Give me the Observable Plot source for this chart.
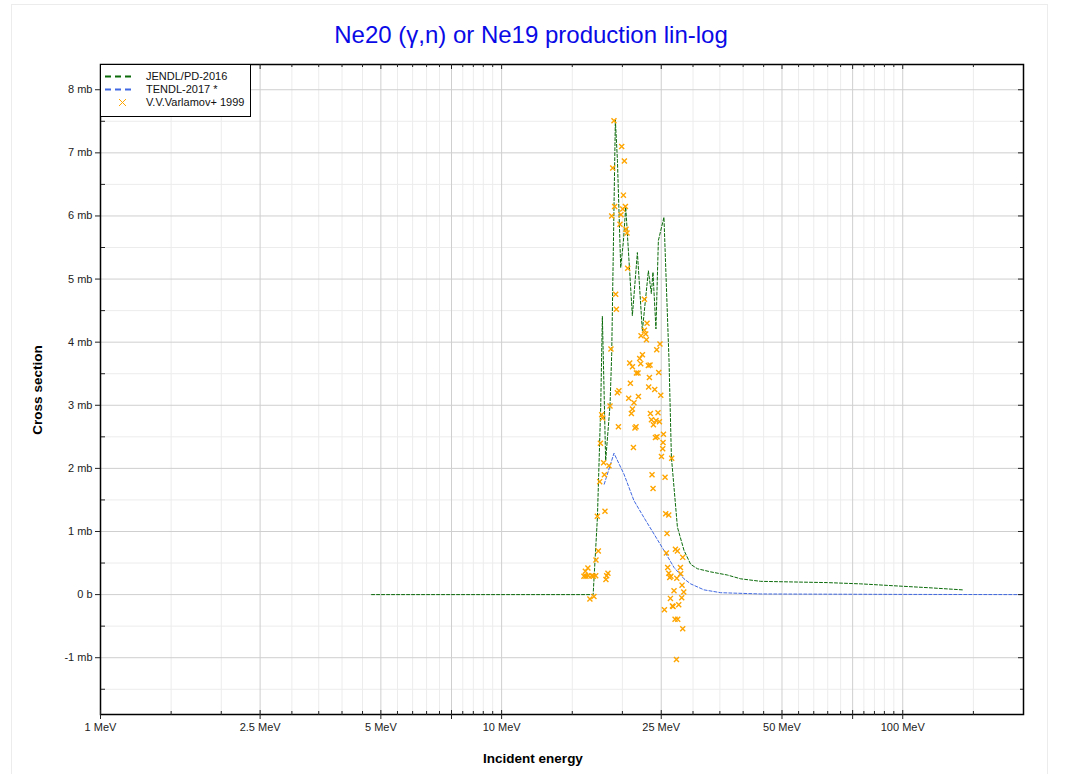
<!DOCTYPE html>
<html>
<head>
<meta charset="utf-8">
<script src="https://cdn.jsdelivr.net/npm/d3@7"></script>
<script src="https://cdn.jsdelivr.net/npm/@observablehq/plot@0.6"></script>
<style>
  html, body { margin: 0; padding: 0; background: #fff; }
  body { width: 1071px; height: 774px; position: relative; overflow: hidden; font-family: "Liberation Sans", Arial, sans-serif; }
  #chart { position: absolute; left: 0; top: 0; }
  .title { position: absolute; left: 0; width: 1062px; top: 21px; text-align: center; font-size: 24px; color: #0a0ae6; }
  .ylab { position: absolute; left: 37px; top: 390px; transform: translate(-50%, -50%) rotate(-90deg); font-size: 13.5px; font-weight: bold; white-space: nowrap; color: #000; }
  .xlab { position: absolute; left: 533px; top: 758px; transform: translate(-50%, -50%); font-size: 13.5px; font-weight: bold; white-space: nowrap; color: #000; }
  .legend { position: absolute; left: 100px; top: 64px; width: 149px; height: 51px; border: 1px solid #000; background: #fff; font-size: 11px; color: #111; }
  .legend .row { position: absolute; left: 0; height: 13px; width: 149px; }
  .legend svg { position: absolute; left: 4px; top: 0; }
  .legend span { position: absolute; left: 45px; top: 0; line-height: 13px; white-space: nowrap; }
  .border { position: absolute; left: 11px; top: 4px; width: 1035px; height: 780px; border: 1px solid #ececec; pointer-events: none; }
</style>
</head>
<body>
<div class="border"></div>
<div id="chart"></div>
<div class="title">Ne20 (γ,n) or Ne19 production lin-log</div>
<div class="ylab">Cross section</div>
<div class="xlab">Incident energy</div>
<div class="legend" id="legend"></div>
<script>
// ---- Data (energy in MeV, cross section in mb) ----
const jendlE  = [4.74, 16.7, 16.91, 17.33, 17.66, 17.83, 18.17, 18.63, 18.81, 19.21, 19.44, 19.81, 20.12, 20.39, 21.18, 21.80, 22.43, 23.22, 23.62, 23.84, 24.25, 24.59, 25.39, 26.14, 26.50, 27.43, 28.49, 29.60, 30.76, 33.20, 36.54, 39.45, 44.25, 53.47, 64.9, 78.6, 95.0, 115.3, 140.9];
const jendlXS = [0, 0, 0, 1.22, 2.97, 4.41, 2.12, 3.0, 3.8, 7.52, 6.88, 5.18, 5.6, 6.14, 4.42, 5.42, 4.18, 5.13, 4.77, 5.11, 4.21, 5.61, 5.98, 3.71, 2.18, 1.07, 0.70, 0.48, 0.41, 0.36, 0.31, 0.25, 0.21, 0.20, 0.19, 0.17, 0.14, 0.11, 0.075];

const tendlE  = [18.02, 19.06, 20.18, 21.37, 22.64, 23.98, 25.39, 26.90, 28.49, 29.60, 31.96, 35.17, 44.25, 100, 200];
const tendlXS = [1.75, 2.24, 1.91, 1.49, 1.22, 0.96, 0.70, 0.43, 0.25, 0.17, 0.075, 0.03, 0.01, 0.003, 0];

const varlamovE  = [19.06, 19.92, 20.23, 18.92, 20.12, 19.13, 20.04, 20.35, 18.81, 19.84, 19.73, 20.42, 20.54, 20.62, 19.25, 19.32, 22.70, 23.04, 22.70, 22.87, 22.26, 22.96, 18.73, 24.82, 24.36, 22.44, 22.09,
  20.86, 21.19, 22.22, 21.68, 21.88, 23.22, 23.44, 24.64, 23.36, 20.94, 19.43, 19.61, 23.26, 24.08, 21.93, 24.93, 20.74, 21.38, 18.63, 21.19, 21.06, 23.49, 24.54, 17.76, 17.86, 23.63, 24.26, 24.74, 23.90, 19.55, 21.63, 21.50,
  25.32, 24.40, 24.18, 25.26, 17.63, 25.21, 21.31, 25.03, 26.55, 17.96, 18.52, 18.04, 23.71, 25.55, 17.56, 23.85, 18.10, 25.65, 26.10, 17.32, 25.84, 17.42, 17.19,
  27.12, 27.43, 25.75, 28.28, 27.91, 25.94, 26.10, 26.25, 26.42, 27.33, 27.96, 18.41, 18.28, 18.20, 16.41, 16.17, 16.04, 16.23, 16.45, 16.77, 16.93, 17.16, 16.99, 16.60,
  28.17, 28.45, 26.90, 28.12, 26.35, 27.64, 26.75, 26.66, 25.46, 27.06, 27.48, 28.28, 27.28];
const varlamovXS = [7.51, 7.10, 6.87, 6.76, 6.33, 6.15, 6.11, 6.15, 6.00, 6.02, 5.87, 5.79, 5.73, 5.17, 4.76, 4.52, 4.68, 4.30, 4.19, 4.13, 4.10, 4.04, 3.89, 3.97, 3.88, 3.80, 3.74,
  3.67, 3.61, 3.66, 3.51, 3.51, 3.63, 3.64, 3.52, 3.44, 3.35, 3.20, 3.23, 3.29, 3.25, 3.14, 3.16, 3.11, 3.04, 2.99, 2.94, 2.87, 2.87, 2.88, 2.85, 2.80, 2.77, 2.76, 2.74, 2.69, 2.66, 2.66, 2.64,
  2.54, 2.50, 2.49, 2.41, 2.40, 2.31, 2.33, 2.19, 2.16, 2.09, 2.04, 1.90, 1.90, 1.86, 1.79, 1.68, 1.32, 1.28, 1.26, 1.24, 0.97, 0.69, 0.55,
  0.72, 0.69, 0.66, 0.59, 0.43, 0.43, 0.34, 0.27, 0.29, 0.26, 0.33, 0.34, 0.30, 0.24, 0.42, 0.37, 0.29, 0.29, 0.30, 0.30, 0.29, 0.30, -0.03, -0.07,
  0.15, 0.04, 0.06, -0.05, -0.06, -0.16, -0.19, -0.18, -0.24, -0.39, -0.39, -0.54, -1.03];

// ---- Ticks ----
const yMajor = [-1, 0, 1, 2, 3, 4, 5, 6, 7, 8];
const yTickLabels = ["-1 mb", "0 b", "1 mb", "2 mb", "3 mb", "4 mb", "5 mb", "6 mb", "7 mb", "8 mb"];
const yMinor = [-1.5, -0.5, 0.5, 1.5, 2.5, 3.5, 4.5, 5.5, 6.5, 7.5];
const xMajor = [1, 2.5, 5, 7.5, 10, 25, 50, 75, 100];
const xTickLabels = ["1 MeV", "2.5 MeV", "5 MeV", "", "10 MeV", "25 MeV", "50 MeV", "", "100 MeV"];
const xMinor = [1.5, 2, 3, 3.5, 4, 4.5, 5.5, 6, 6.5, 7, 8, 8.5, 9, 9.5, 15, 20, 30, 35, 40, 45, 55, 60, 65, 70, 80, 85, 90, 95, 150];

const seriesNames = ["JENDL/PD-2016", "TENDL-2017 *", "V.V.Varlamov+ 1999"];
const colors = ["#0b6b0b", "#4169e1", "#ffa500"];

const jendl = jendlE.map((E, i) => ({E, xs: jendlXS[i]}));
const tendl = tendlE.map((E, i) => ({E, xs: tendlXS[i]}));
const varlamov = varlamovE.map((E, i) => ({E, xs: varlamovXS[i]}));

const noText = () => "";
const chart = Plot.plot({
  width: 1071,
  height: 774,
  marginTop: 64,
  marginLeft: 100,
  marginRight: 48,
  marginBottom: 60,
  style: {fontFamily: "'Liberation Sans', Arial, sans-serif", fontSize: "11px", background: "transparent", color: "#222"},
  x: {type: "log", domain: [1, 200], label: null},
  y: {domain: [-1.9, 8.4], label: null},
  marks: [
    Plot.gridY(yMinor, {stroke: "#ececec", strokeOpacity: 1}),
    Plot.gridX(xMinor, {stroke: "#ececec", strokeOpacity: 1}),
    Plot.gridY(yMajor, {stroke: "#cfcfcf", strokeOpacity: 1}),
    Plot.gridX(xMajor.filter(d => d > 1), {stroke: "#cfcfcf", strokeOpacity: 1}),
    Plot.line(jendl, {x: "E", y: "xs", stroke: colors[0], strokeWidth: 1, strokeDasharray: "3,2"}),
    Plot.line(tendl, {x: "E", y: "xs", stroke: colors[1], strokeWidth: 1, strokeDasharray: "3,2"}),
    Plot.dot(varlamov, {x: "E", y: "xs", symbol: "times", stroke: colors[2], r: 2.4, strokeWidth: 1.4}),
    Plot.frame({stroke: "#000", strokeWidth: 1.5}),
    Plot.axisY(yMajor, {anchor: "left", tickSize: 5, tickPadding: 3, tickFormat: d => yTickLabels[yMajor.indexOf(d)], label: null, fontSize: 11}),
    Plot.axisY(yMinor, {anchor: "right", frameAnchor: "left", tickSize: 4, tickFormat: noText, label: null}),
    Plot.axisY(yMajor, {anchor: "left", frameAnchor: "right", tickSize: 5, tickFormat: noText, label: null}),
    Plot.axisY(yMinor, {anchor: "left", frameAnchor: "right", tickSize: 3, tickFormat: noText, label: null}),
    Plot.axisX(xMajor, {anchor: "bottom", tickSize: 5, tickPadding: 4, tickFormat: d => xTickLabels[xMajor.indexOf(d)], label: null, fontSize: 11}),
    Plot.axisX(xMajor, {anchor: "top", frameAnchor: "bottom", tickSize: 5, tickFormat: noText, label: null}),
    Plot.axisX(xMinor, {anchor: "top", frameAnchor: "bottom", tickSize: 4, tickFormat: noText, label: null}),
    Plot.axisX(xMajor, {anchor: "bottom", frameAnchor: "top", tickSize: 5, tickFormat: noText, label: null}),
    Plot.axisX(xMinor, {anchor: "bottom", frameAnchor: "top", tickSize: 3, tickFormat: noText, label: null})
  ]
});
document.getElementById("chart").appendChild(chart);

// ---- Legend ----
const legend = document.getElementById("legend");
seriesNames.forEach((name, i) => {
  const row = document.createElement("div");
  row.className = "row";
  row.style.top = (5 + i * 13) + "px";
  let sw;
  if (i < 2) {
    sw = `<svg width="32" height="13"><line x1="0" y1="6.5" x2="30" y2="6.5" stroke="${colors[i]}" stroke-width="2" stroke-dasharray="6,4"/></svg>`;
  } else {
    sw = `<svg width="32" height="13"><path d="M14,3L21,10M21,3L14,10" stroke="${colors[i]}" stroke-width="1"/></svg>`;
  }
  row.innerHTML = sw + `<span>${name}</span>`;
  legend.appendChild(row);
});
</script>
</body>
</html>
